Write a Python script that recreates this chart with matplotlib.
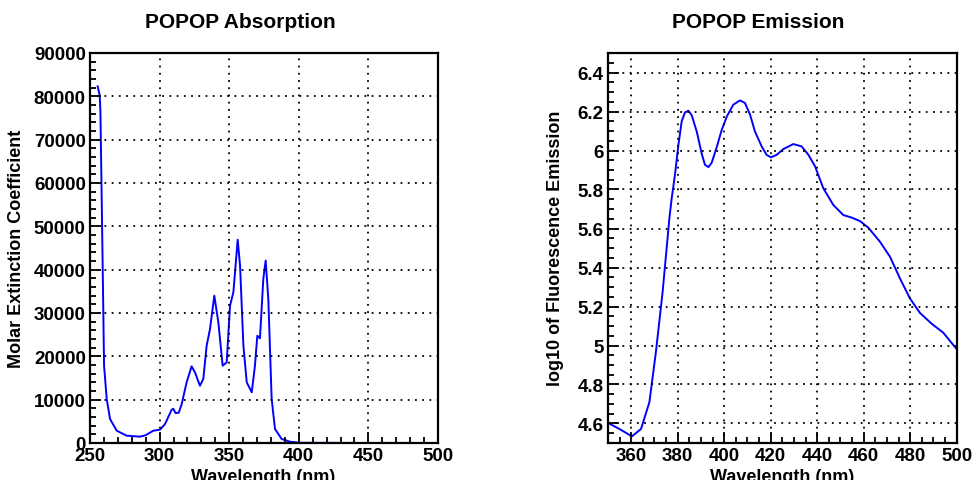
import matplotlib
matplotlib.use("Agg")
import matplotlib.pyplot as plt
from matplotlib.ticker import MultipleLocator

plt.rcParams['font.family'] = ['Liberation Sans', 'DejaVu Sans']
plt.rcParams['font.weight'] = 'bold'

# POPOP absorption spectrum (molar extinction coefficient)
abs_wavelength = [255.5, 257.0, 257.5, 259.1, 260.1, 262.0, 264.4, 269.2, 276.3, 285.9,
                  290.0, 295.5, 300.3, 303.9, 308.7, 309.8, 311.5, 313.8, 315.9, 319.4,
                  323.0, 325.4, 329.0, 331.4, 333.8, 336.2, 339.3, 342.2, 345.3, 348.2,
                  350.6, 353.0, 356.1, 357.8, 360.2, 362.6, 366.2, 368.5, 370.2, 372.1,
                  374.5, 376.2, 378.1, 380.5, 382.9, 387.7, 393.7, 400.9, 450.0, 500.0]
abs_coeff = [82300, 80200, 76300, 40900, 17850, 10150, 5540, 2840, 1690, 1460,
             1800, 2840, 3080, 4380, 7700, 7900, 6900, 7000, 9000, 14000,
             17700, 16300, 13200, 14800, 22450, 26300, 34000, 27850, 17850, 18600,
             31700, 34800, 46900, 40900, 22450, 14000, 11700, 17850, 24750, 24150,
             37850, 42100, 33200, 10150, 3230, 920, 300, 50, 0, 0]

# POPOP fluorescence emission (log10)
em_wavelength = [350.0, 354.9, 360.3, 364.2, 367.8, 370.6, 373.5, 376.4, 377.4, 378.8,
                 380.3, 381.7, 383.1, 384.6, 386.0, 388.2, 390.3, 391.7, 393.2, 394.6,
                 396.8, 398.9, 401.1, 403.9, 406.8, 408.9, 411.1, 413.2, 416.1, 418.2,
                 420.1, 422.6, 425.4, 429.7, 433.3, 436.2, 439.1, 442.6, 446.9, 451.2,
                 454.8, 458.4, 462.0, 467.0, 471.3, 475.6, 479.9, 484.2, 489.2, 494.2,
                 499.6, 500.0]
em_log = [4.603, 4.572, 4.534, 4.572, 4.709, 4.966, 5.275, 5.652, 5.755, 5.875,
          6.030, 6.150, 6.195, 6.204, 6.181, 6.096, 5.984, 5.927, 5.915, 5.937,
          6.018, 6.105, 6.174, 6.235, 6.257, 6.244, 6.184, 6.098, 6.021, 5.978,
          5.965, 5.978, 6.007, 6.033, 6.021, 5.978, 5.918, 5.807, 5.721, 5.669,
          5.656, 5.638, 5.604, 5.532, 5.455, 5.344, 5.241, 5.167, 5.112, 5.066,
          4.987, 4.983]

W, H = 972, 481
fig = plt.figure(figsize=(W / 100, H / 100), dpi=100)


def px_axes(left, top, right, bottom):
    return fig.add_axes([left / W, 1 - bottom / H, (right - left) / W, (bottom - top) / H])


def style_axes(ax, xmajor, xminor, ymajor, yminor):
    ax.xaxis.set_major_locator(MultipleLocator(xmajor))
    ax.xaxis.set_minor_locator(MultipleLocator(xminor))
    ax.yaxis.set_major_locator(MultipleLocator(ymajor))
    ax.yaxis.set_minor_locator(MultipleLocator(yminor))
    ax.tick_params(which='both', direction='in', top=False, right=False,
                   labelsize=13.5, width=1.3, color='black')
    ax.tick_params(which='major', length=8, pad=3)
    ax.tick_params(which='minor', length=4)
    for lab in ax.get_xticklabels() + ax.get_yticklabels():
        lab.set_fontweight('bold')
    for sp in ax.spines.values():
        sp.set_linewidth(1.6)
    ax.grid(True, which='major', color='black', linestyle=(0, (1, 3)), linewidth=1.3)
    ax.set_axisbelow(False)


# absorption panel
ax1 = px_axes(90, 54, 438, 444)
ax1.plot(abs_wavelength, abs_coeff, color='#0000ff', linewidth=1.4)
ax1.set_xlim(250, 500)
ax1.set_ylim(0, 90000)
style_axes(ax1, 50, 10, 10000, 2000)
fig.text(240 / W, 1 - 22 / H, 'POPOP Absorption', ha='center', va='center',
         fontsize=15, fontweight='bold')
fig.text(263 / W, 1 - 478 / H, 'Wavelength (nm)', ha='center', va='center',
         fontsize=13, fontweight='bold')
fig.text(17 / W, 1 - 249 / H, 'Molar Extinction Coefficient', ha='center', va='center',
         rotation=90, fontsize=13, fontweight='bold')

# emission panel
ax2 = px_axes(608, 54, 956.7, 444)
ax2.plot(em_wavelength, em_log, color='#0000ff', linewidth=1.4)
ax2.set_xlim(350, 500)
ax2.set_ylim(4.5, 6.5)
style_axes(ax2, 20, 5, 0.2, 0.05)
ax2.yaxis.set_major_formatter(plt.FuncFormatter(lambda v, p: ('%g' % round(v, 2))))
fig.text(758 / W, 1 - 22 / H, 'POPOP Emission', ha='center', va='center',
         fontsize=15, fontweight='bold')
fig.text(782 / W, 1 - 478 / H, 'Wavelength (nm)', ha='center', va='center',
         fontsize=13, fontweight='bold')
fig.text(556 / W, 1 - 248 / H, 'log10 of Fluorescence Emission', ha='center', va='center',
         rotation=90, fontsize=13, fontweight='bold')

fig.savefig('out.png', dpi=100)
